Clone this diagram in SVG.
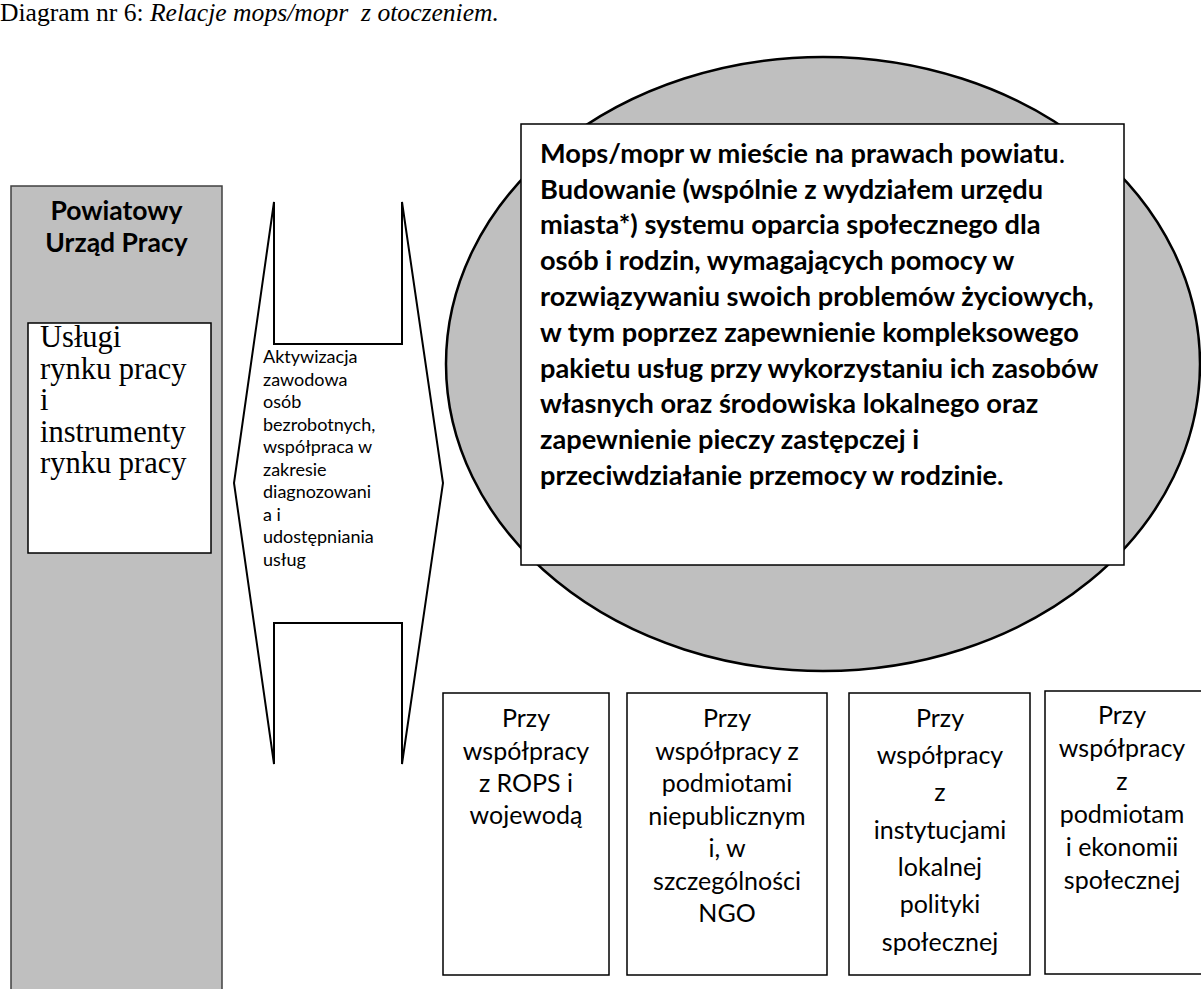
<svg xmlns="http://www.w3.org/2000/svg" width="1201" height="989" viewBox="0 0 1201 989">
<style>
.cal{font-family:Lato,"Open Sans","Liberation Sans",sans-serif;fill:#000}
.b{font-weight:bold}
.tnr{font-family:"Liberation Serif","Times New Roman",serif;fill:#000}
.box{fill:#fff;stroke:#000;stroke-width:1.5}
.mid{text-anchor:middle}
</style>
<rect width="1201" height="989" fill="#fff"/>
<g id="title">
<text class="tnr" x="0" y="21" font-size="25.6" xml:space="preserve">Diagram nr 6: <tspan font-style="italic">Relacje mops/mopr  z otoczeniem.</tspan></text>
</g>
<g id="pup">
<rect x="11" y="186" width="211" height="820" fill="#bfbfbf" stroke="#404040" stroke-width="1.5"/>
<text class="cal b mid" font-size="26.5" x="116.5"><tspan x="116.5" y="220">Powiatowy</tspan><tspan x="116.5" y="252">Urząd Pracy</tspan></text>
<rect class="box" x="28" y="323" width="183" height="230"/>
<text class="tnr" font-size="30.5"><tspan x="40" y="347">Usługi</tspan><tspan x="40" y="379">rynku pracy</tspan><tspan x="40" y="410">i</tspan><tspan x="40" y="442">instrumenty</tspan><tspan x="40" y="473">rynku pracy</tspan></text>
</g>
<g id="connectors">
<path d="M274,202 L274,344 L402,344 L402,202 L443,483 L402,764 L402,623 L274,623 L274,764 L234,483 Z" fill="#fff" stroke="#000" stroke-width="2" stroke-linejoin="miter"/>
<text class="cal" font-size="18"><tspan x="263" y="363">Aktywizacja</tspan><tspan x="263" y="385.5">zawodowa</tspan><tspan x="263" y="408">osób</tspan><tspan x="263" y="430.5">bezrobotnych,</tspan><tspan x="263" y="453">współpraca w</tspan><tspan x="263" y="475.5">zakresie</tspan><tspan x="263" y="498">diagnozowani</tspan><tspan x="263" y="520.5">a i</tspan><tspan x="263" y="543">udostępniania</tspan><tspan x="263" y="565.5">usług</tspan></text>
</g>
<g id="mops">
<ellipse cx="823" cy="364" rx="377" ry="307" fill="#bfbfbf" stroke="#000" stroke-width="2.5"/>
<rect class="box" x="521" y="124" width="603" height="441"/>
<text class="cal b" font-size="27.2"><tspan x="540" y="163">Mops/mopr w mieście na prawach powiatu<tspan font-weight="normal">.</tspan></tspan><tspan x="540" y="199">Budowanie (wspólnie z wydziałem urzędu</tspan><tspan x="540" y="234">miasta*) systemu oparcia społecznego dla</tspan><tspan x="540" y="270">osób i rodzin, wymagających pomocy w</tspan><tspan x="540" y="306">rozwiązywaniu swoich problemów życiowych,</tspan><tspan x="540" y="342">w tym poprzez zapewnienie kompleksowego</tspan><tspan x="540" y="378">pakietu usług przy wykorzystaniu ich zasobów</tspan><tspan x="540" y="413">własnych oraz środowiska lokalnego oraz</tspan><tspan x="540" y="449">zapewnienie pieczy zastępczej i</tspan><tspan x="540" y="485">przeciwdziałanie przemocy w rodzinie.</tspan></text>
</g>
<g id="rops">
<rect class="box" x="443" y="693" width="166" height="282"/>
<text class="cal mid" font-size="25"><tspan x="526" y="727">Przy</tspan><tspan x="526" y="760">współpracy</tspan><tspan x="526" y="792">z ROPS i</tspan><tspan x="526" y="824">wojewodą</tspan></text>
</g>
<g id="ngo">
<rect class="box" x="627" y="693" width="200" height="282"/>
<text class="cal mid" font-size="25"><tspan x="727" y="727">Przy</tspan><tspan x="727" y="760">współpracy z</tspan><tspan x="727" y="792">podmiotami</tspan><tspan x="727" y="825">niepublicznym</tspan><tspan x="727" y="857">i, w</tspan><tspan x="727" y="890">szczególności</tspan><tspan x="727" y="922">NGO</tspan></text>
</g>
<g id="lokalne">
<rect class="box" x="849" y="693" width="181" height="282"/>
<text class="cal mid" font-size="25"><tspan x="940" y="727">Przy</tspan><tspan x="940" y="764">współpracy</tspan><tspan x="940" y="801">z</tspan><tspan x="940" y="839">instytucjami</tspan><tspan x="940" y="876">lokalnej</tspan><tspan x="940" y="913">polityki</tspan><tspan x="940" y="951">społecznej</tspan></text>
</g>
<g id="es">
<rect class="box" x="1045" y="691" width="170" height="283"/>
<text class="cal mid" font-size="25"><tspan x="1122" y="724">Przy</tspan><tspan x="1122" y="757">współpracy</tspan><tspan x="1122" y="790">z</tspan><tspan x="1122" y="823">podmiotam</tspan><tspan x="1122" y="856">i ekonomii</tspan><tspan x="1122" y="889">społecznej</tspan></text>
</g>
</svg>
